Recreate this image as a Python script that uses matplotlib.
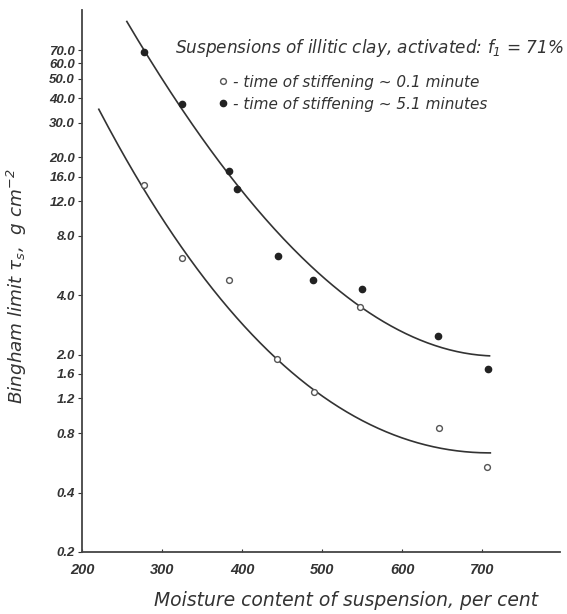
import numpy as np
import matplotlib
matplotlib.use('Agg')
import matplotlib.pyplot as plt
from matplotlib.ticker import FixedLocator, FixedFormatter, NullLocator

# Lettering: italic sans throughout
plt.rcParams['font.family'] = ['DejaVu Sans']
plt.rcParams['font.style'] = 'italic'
plt.rcParams['mathtext.fontset'] = 'dejavusans'

# Measured points, stiffening time ~5.1 min (filled)
moisture_slow = [278, 325, 383, 394, 445, 489, 550, 645, 707]
tau_slow = [68.6, 37.4, 17.1, 13.9, 6.3, 4.8, 4.3, 2.5, 1.7]

# Measured points, stiffening time ~0.1 min (open)
moisture_fast = [277, 325, 383, 444, 490, 547, 646, 706]
tau_fast = [14.5, 6.2, 4.8, 1.9, 1.3, 3.5, 0.85, 0.54]

# Points along the drawn trend curves
curve_slow_x = [256, 279, 325, 381, 395, 460, 514, 548, 598, 644, 681, 709]
curve_slow_y = [95, 68.6, 37.4, 17.1, 13.7, 7.0, 4.4, 3.5, 2.7, 2.24, 2.02, 1.95]
curve_fast_x = [221, 277, 322, 360, 397, 444, 490, 535, 597, 660, 710]
curve_fast_y = [34.1, 14.5, 7.4, 4.4, 2.86, 1.90, 1.30, 1.01, 0.78, 0.66, 0.63]

y_ticks = [0.2, 0.4, 0.8, 1.2, 1.6, 2.0, 4.0, 8.0, 12.0, 16.0, 20.0,
           30.0, 40.0, 50.0, 60.0, 70.0]
y_tick_labels = ['%.1f' % v for v in y_ticks]
x_ticks = [200, 300, 400, 500, 600, 700]

title = 'Suspensions of illitic clay, activated: $f_1$ = 71%'
label_fast = '- time of stiffening ~ 0.1 minute'
label_slow = '- time of stiffening ~ 5.1 minutes'

ink = '#333333'

fig = plt.figure(figsize=(5.67, 6.14), dpi=100)
ax = fig.add_axes([0.1446, 0.101, 0.843, 0.883])


def trend(xs, ys, deg=3):
    # smooth curve through the read curve points, fitted in log space
    coef = np.polyfit(xs, np.log10(ys), deg)
    xx = np.linspace(min(xs), max(xs), 200)
    return xx, 10 ** np.polyval(coef, xx)


ax.plot(*trend(curve_slow_x, curve_slow_y), color=ink, lw=1.2)
ax.plot(*trend(curve_fast_x, curve_fast_y), color=ink, lw=1.2)

h_fast, = ax.plot(moisture_fast, tau_fast, 'o', ls='none', ms=4.2,
                  mfc='white', mec='#555555', mew=1.0)
h_slow, = ax.plot(moisture_slow, tau_slow, 'o', ls='none', ms=4.5,
                  color='#222222')

ax.set_yscale('log')
ax.set_ylim(0.2, 112)
ax.set_xlim(200, 797)
ax.yaxis.set_major_locator(FixedLocator(y_ticks))
ax.yaxis.set_major_formatter(FixedFormatter(y_tick_labels))
ax.yaxis.set_minor_locator(NullLocator())
ax.set_xticks(x_ticks)

for side in ['top', 'right']:
    ax.spines[side].set_visible(False)
for side in ['left', 'bottom']:
    ax.spines[side].set_color('#444444')
    ax.spines[side].set_linewidth(1.3)

ax.tick_params(axis='y', direction='out', length=3, width=0.8, pad=2,
               colors='#333333')
ax.tick_params(axis='x', direction='in', length=2, width=0.8, pad=8,
               colors='#333333')
for lab in ax.get_yticklabels():
    lab.set_fontfamily('Liberation Sans')
    lab.set_fontweight('bold')
    lab.set_fontsize(9.5)
for lab in ax.get_xticklabels():
    lab.set_fontfamily('Liberation Sans')
    lab.set_fontweight('bold')
    lab.set_fontsize(10.5)

fig.text(0.03, 1 - 286 / 614, r'Bingham limit $\tau_s$,  g cm$^{-2}$',
         rotation=90, ha='center', va='center', fontsize=13.2, color=ink)
fig.text(346 / 567, 1 - 600 / 614, 'Moisture content of suspension, per cent',
         ha='center', va='center', fontsize=13.5, color=ink)
fig.text(564 / 567, 1 - 48 / 614, title,
         ha='right', va='center', fontsize=12.2, color=ink)

leg = ax.legend([h_fast, h_slow], [label_fast, label_slow],
                loc='upper left', bbox_to_anchor=(209 / 567, 1 - 67 / 614),
                bbox_transform=fig.transFigure, frameon=False, fontsize=11,
                handlelength=0.8, handletextpad=0.3, labelspacing=0.45,
                borderpad=0)
for t in leg.get_texts():
    t.set_color(ink)

fig.savefig('out.png', dpi=100, facecolor='white')
